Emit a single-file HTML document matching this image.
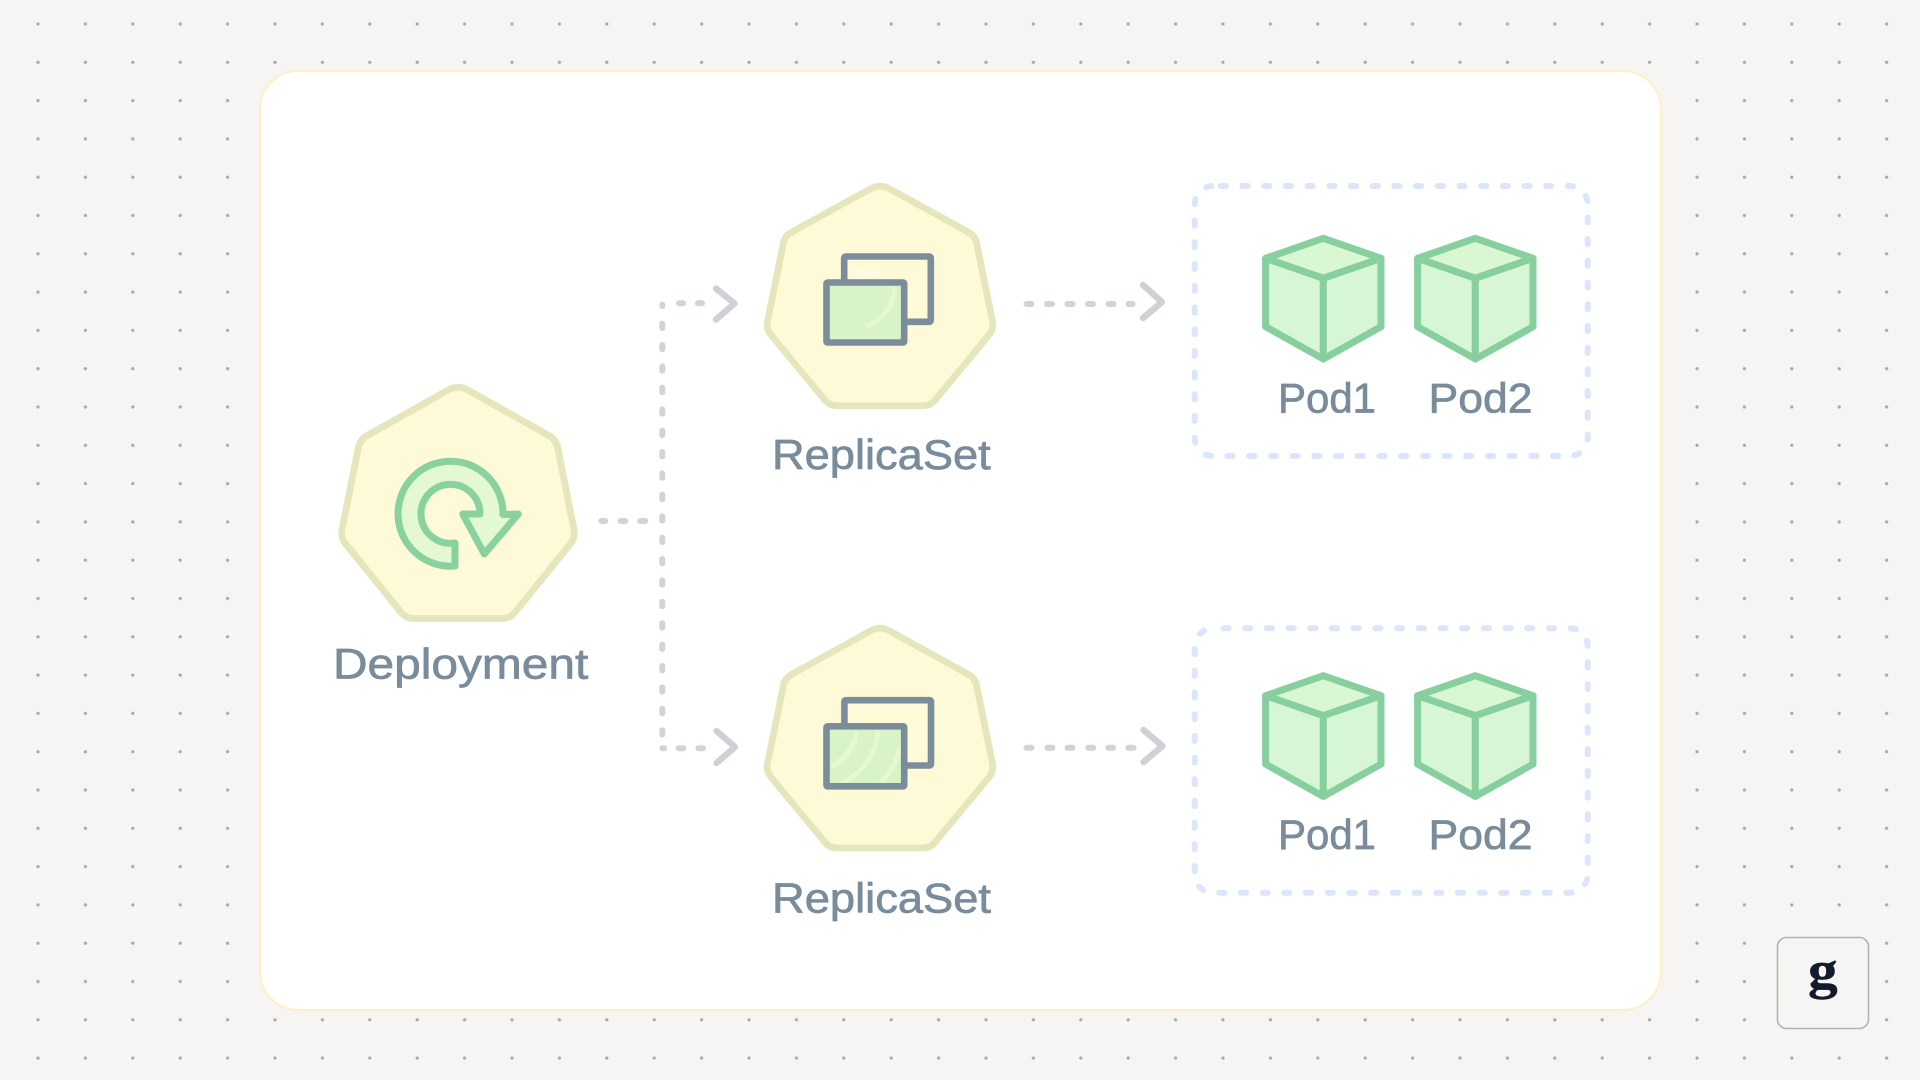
<!DOCTYPE html>
<html>
<head>
<meta charset="utf-8">
<style>
html,body{margin:0;padding:0;width:1920px;height:1080px;overflow:hidden;background:#f6f5f3}
svg{display:block}
text{font-family:"Liberation Sans",sans-serif;fill:#7a8c9c;stroke:#7a8c9c;stroke-width:.7;font-size:42px}
</style>
</head>
<body>
<svg width="1920" height="1080" viewBox="0 0 1920 1080" xmlns="http://www.w3.org/2000/svg">
<defs>
<pattern id="dots" x="14.3" y="4.85" width="47.4" height="38.3" patternUnits="userSpaceOnUse">
<circle cx="23.7" cy="19.15" r="1.6" fill="#a8a8a8"/>
</pattern>
<path id="hept" d="M-9.6,5.4 Q0,0 9.6,5.4 L91,51.1 Q98,55 99.6,62.8 L116,145 Q117.5,153 112.5,159.3 L57,227.7 Q52,234 44,234 L-44,234 Q-52,234 -57,227.7 L-112.5,159.3 Q-117.5,153 -116,145 L-99.6,62.8 Q-98,55 -91,51.1 Z" fill="#fef9d6" stroke="#e6e6bd" stroke-linejoin="round"/>
<g id="cube" stroke="#88cfa0" stroke-width="7" stroke-linejoin="round" stroke-linecap="round">
<polygon points="0,0 57.7,20 0,40 -57.7,20" fill="#d9f7d2"/>
<polygon points="-57.7,20 0,40 0,120.7 -57.7,88.4" fill="#d7f6d5"/>
<polygon points="57.7,20 0,40 0,120.7 57.7,88.4" fill="#d7f6d5"/>
</g>
<clipPath id="c1"><rect x="826.5" y="282.5" width="77.7" height="60"/></clipPath>
<clipPath id="c2"><rect x="826.5" y="726.3" width="77.7" height="60"/></clipPath>
<filter id="blur" x="-30%" y="-100%" width="160%" height="300%"><feGaussianBlur stdDeviation="2"/></filter>
</defs>

<!-- background -->
<rect width="1920" height="1080" fill="#f6f5f3"/>
<rect width="1920" height="1080" fill="url(#dots)"/>

<!-- card -->
<rect x="260" y="71" width="1401" height="939" rx="38" ry="38" fill="#ffffff" stroke="#fdf0c4" stroke-width="2"/>

<!-- connectors -->
<g fill="none" stroke="#d0d3da" stroke-width="6" stroke-linecap="round">
<path d="M601.3,521 H605.3 M620.7,521 H625.3 M640.3,521 H645.3"/>
<path d="M662.3,323.6 V735" stroke-dasharray="4.4 17"/>
<path d="M662.3,304.5 V306"/>
<path d="M662.5,748.3 H664"/>
<path d="M679,303.3 H683 M698,303.3 H702"/>
<path d="M678.7,748.3 H683.4 M698.4,748.3 H703"/>
<path d="M1026.5,304 H1031.5 M1047,304 H1052 M1067.5,304 H1072.5 M1088,304 H1093 M1108.5,304 H1113.5 M1128.5,304 H1132.5"/>
<path d="M1026.5,747.7 H1031.5 M1047.5,747.7 H1052.5 M1067.5,747.7 H1072.5 M1088.2,747.7 H1093.2 M1108.2,747.7 H1113.2 M1128.5,747.7 H1133.5"/>
</g>
<g fill="none" stroke="#cfd1d6" stroke-width="6.4" stroke-linecap="round" stroke-linejoin="round">
<polyline points="716,288.5 734.5,303.5 716,319.5"/>
<polyline points="716.5,731 735,747 716.5,763"/>
<polyline points="1143,285 1162,302 1143,318"/>
<polyline points="1143.5,730 1162.5,746 1143.5,762"/>
</g>

<!-- Deployment -->
<use href="#hept" transform="translate(458,384.5)" stroke-width="6.8"/>
<path d="M455,543 L455,566 A52.5,52.5 0 1 1 503,514.5 L518.3,514 L484.3,554 L462.7,514 L480,514 A29.5,29.5 0 1 0 455,543 Z" fill="#e4f9d3" stroke="#89d2a0" stroke-width="7" stroke-linejoin="round"/>
<text x="333" y="678.3" textLength="255.3" lengthAdjust="spacingAndGlyphs" style="font-size:43px">Deployment</text>

<!-- ReplicaSet top -->
<use href="#hept" transform="translate(880,183.5) scale(.97,.95)" stroke-width="7"/>
<ellipse cx="868" cy="273.5" rx="15" ry="2.5" fill="#fffef2" filter="url(#blur)"/>
<rect x="844.2" y="256.5" width="86.6" height="65.3" rx="1.5" fill="none" stroke="#7b8d9b" stroke-width="6.6" stroke-linejoin="round"/>
<rect x="826.5" y="282.5" width="77.7" height="60" rx="1" fill="#d8f3c6"/>
<g clip-path="url(#c1)"><path d="M895,287 Q893,315 865,327" fill="none" stroke="#e3f8d2" stroke-width="5"/></g>
<rect x="826.5" y="282.5" width="77.7" height="60" rx="1" fill="none" stroke="#7b8d9b" stroke-width="6.6" stroke-linejoin="round"/>
<text x="772" y="469" textLength="218.7" lengthAdjust="spacingAndGlyphs">ReplicaSet</text>

<!-- ReplicaSet bottom -->
<use href="#hept" transform="translate(880,625.7) scale(.97,.95)" stroke-width="7"/>
<rect x="844.4" y="700.2" width="86.6" height="65.3" rx="1.5" fill="none" stroke="#7b8d9b" stroke-width="6.6" stroke-linejoin="round"/>
<rect x="826.5" y="726.3" width="77.7" height="60" rx="1" fill="#d8f3c6"/>
<g clip-path="url(#c2)" fill="none" stroke="#e4f8d4" stroke-width="5">
<path d="M856.7,731.7 Q853.3,753.3 831.7,766.7"/>
<path d="M878.3,730 Q875,766.7 841.7,783.3"/>
<path d="M900,746.7 Q895,770 880,783.3"/>
</g>
<rect x="826.5" y="726.3" width="77.7" height="60" rx="1" fill="none" stroke="#7b8d9b" stroke-width="6.6" stroke-linejoin="round"/>
<text x="772" y="912.7" textLength="219" lengthAdjust="spacingAndGlyphs">ReplicaSet</text>

<!-- Pods top -->
<rect x="1194.7" y="186" width="393" height="270" rx="18" fill="none" stroke="#dbe6fa" stroke-width="6" stroke-linecap="round" stroke-dasharray="5.2 16.5" stroke-dashoffset="-8"/>
<use href="#cube" x="1323.3" y="238.3"/>
<use href="#cube" x="1475.3" y="238.3"/>
<text x="1278" y="412.7" textLength="98" lengthAdjust="spacingAndGlyphs">Pod1</text>
<text x="1428.5" y="412.7" textLength="104" lengthAdjust="spacingAndGlyphs">Pod2</text>

<!-- Pods bottom -->
<rect x="1194.7" y="628.3" width="393" height="264.4" rx="18" fill="none" stroke="#dbe6fa" stroke-width="6" stroke-linecap="round" stroke-dasharray="5.2 16.5" stroke-dashoffset="-10.7"/>
<use href="#cube" x="1323.3" y="675.7"/>
<use href="#cube" x="1475.3" y="675.7"/>
<text x="1278" y="849" textLength="98" lengthAdjust="spacingAndGlyphs">Pod1</text>
<text x="1428.5" y="849" textLength="104" lengthAdjust="spacingAndGlyphs">Pod2</text>

<!-- Logo -->
<rect x="1777.5" y="937.5" width="91" height="91" rx="9" fill="#f6f5f3" stroke="#b5b3b0" stroke-width="1.6"/>
<text transform="translate(1808,988) scale(1.12,1)" style="font-family:'Liberation Serif',serif;font-weight:bold;font-size:53px;fill:#121a2c;stroke:#121a2c;stroke-width:.4">g</text>
</svg>
</body>
</html>
